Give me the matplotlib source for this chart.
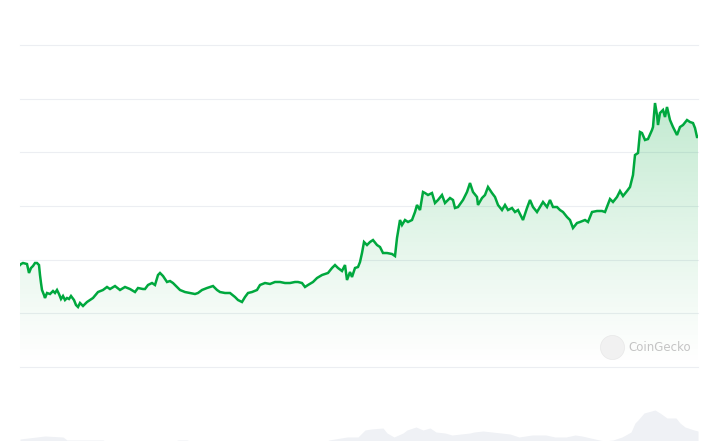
import numpy as np
import matplotlib
matplotlib.use("Agg")
import matplotlib.pyplot as plt

########################## price series (hours since start, price units) ##########################
hours = [0, 1, 3, 7, 9, 11, 13, 15, 17, 19, 20, 21, 22, 24, 25, 27, 30, 33, 35, 37,
         39, 41, 43, 45, 47, 49, 51, 54, 56, 58, 60, 63, 67, 70, 73, 78, 83, 87, 90, 95,
         100, 105, 110, 115, 118, 123, 125, 128, 132, 135, 138, 140, 143, 147, 150, 153, 157, 160, 165, 170,
         175, 178, 182, 187, 190, 193, 197, 200, 205, 210, 215, 218, 222, 225, 228, 232, 237, 240, 245, 250,
         255, 260, 265, 270, 275, 278, 282, 285, 288, 293, 297, 302, 305, 308, 312, 315, 318, 322, 325, 327,
         330, 332, 335, 338, 340, 342, 344, 347, 350, 353, 357, 360, 363, 367, 372, 375, 377, 380, 382, 385,
         388, 392, 395, 397, 400, 403, 405, 408, 412, 415, 418, 422, 425, 430, 433, 435, 438, 443, 447, 450,
         453, 457, 458, 462, 465, 468, 472, 475, 478, 482, 485, 488, 492, 495, 498, 503, 507, 510, 513, 517,
         520, 523, 527, 530, 533, 537, 540, 543, 547, 550, 553, 557, 560, 565, 568, 572, 577, 582, 585, 590,
         593, 597, 600, 603, 607, 610, 613, 615, 618, 620, 622, 625, 628, 632, 633, 635, 637, 638, 640, 643,
         645, 647, 650, 653, 657, 660, 663, 667, 670, 673, 675, 677, 678]
price = [19.00, 19.19, 19.38, 19.19, 17.52, 18.45, 18.82, 19.38, 19.38, 19.00, 17.14, 15.65, 14.35, 13.42, 12.86, 13.79, 13.60, 14.16, 13.79, 14.35,
         13.60, 12.67, 13.23, 12.48, 12.86, 12.67, 13.23, 12.48, 11.55, 11.18, 11.93, 11.37, 12.11, 12.48, 12.86, 13.97, 14.35, 14.91, 14.53, 15.09,
         14.35, 14.91, 14.53, 13.97, 14.72, 14.53, 14.53, 15.28, 15.65, 15.28, 17.14, 17.52, 16.96, 15.84, 16.02, 15.65, 14.91, 14.35, 13.97, 13.79,
         13.60, 13.79, 14.35, 14.72, 14.91, 15.09, 14.35, 13.97, 13.79, 13.79, 13.04, 12.48, 12.11, 13.04, 13.79, 13.97, 14.35, 15.28, 15.65, 15.47,
         15.84, 15.84, 15.65, 15.65, 15.84, 15.84, 15.65, 14.91, 15.28, 15.84, 16.58, 17.14, 17.33, 17.52, 18.45, 19.00, 18.45, 17.89, 19.00, 16.21,
         17.70, 16.77, 18.45, 18.63, 19.56, 21.24, 23.29, 22.73, 23.29, 23.66, 22.73, 22.36, 21.24, 21.24, 21.06, 20.68, 24.04, 27.39, 26.46, 27.39,
         27.02, 27.39, 28.88, 30.19, 29.25, 32.61, 32.42, 32.05, 32.42, 30.56, 31.12, 32.05, 30.56, 31.49, 31.12, 29.63, 29.81, 31.12, 32.61, 34.28,
         32.61, 31.68, 30.19, 31.49, 32.05, 33.54, 32.42, 31.68, 30.19, 29.25, 30.19, 29.25, 29.63, 28.88, 29.25, 27.39, 29.63, 31.12, 29.81, 28.88,
         29.81, 30.75, 29.81, 31.12, 29.81, 29.81, 29.25, 28.88, 27.95, 27.39, 25.90, 26.83, 27.02, 27.39, 27.02, 28.88, 29.07, 29.07, 28.88, 31.30,
         30.75, 31.68, 32.79, 31.86, 32.79, 33.54, 35.78, 39.50, 39.87, 43.79, 43.60, 42.30, 42.48, 44.16, 44.72, 49.19, 46.96, 45.09, 47.33, 47.89,
         46.58, 48.45, 46.02, 44.72, 43.23, 44.72, 45.09, 46.02, 45.65, 45.46, 44.53, 42.86, 42.86]

########################## volume series (same hours, arbitrary units) ##########################
vol_hours = [0, 25, 43, 47, 83, 85, 155, 158, 167, 170, 307, 309, 327, 338, 345, 351, 363, 367, 374, 383,
             387, 396, 403, 410, 416, 425, 432, 441, 450, 454, 463, 472, 481, 490, 499, 512, 526, 535, 546, 555,
             562, 575, 584, 593, 602, 611, 615, 618, 624, 635, 640, 647, 656, 660, 665, 674, 678]
volume = [2, 5, 4, 1, 1, 0, 0, 1, 1, 0, 0, 1, 4, 4, 11, 12, 13, 8, 4, 8,
          11, 14, 11, 13, 9, 8, 6, 7, 8, 9, 10, 9, 8, 7, 4, 6, 6, 4, 4, 6,
          5, 2, 0, 1, 4, 9, 18, 21, 28, 31, 28, 23, 23, 18, 14, 11, 10]

t = np.array(hours, dtype=float)
p = np.array(price)
green = '#00a83e'

fig = plt.figure(figsize=(7.01, 4.41), dpi=100)
fig.patch.set_facecolor('white')

##################################### volume strip #############################################
axv = fig.add_axes([20/701, 0, 678/701, 61/441])
axv.fill_between(vol_hours, volume, 0, color='#eff1f5', linewidth=0)
axv.set_xlim(0, 678)
axv.set_ylim(0, 61)
axv.axis('off')

##################################### price chart ##############################################
ax = fig.add_axes([20/701, 74/441, 678/701, 322/441])
ax.set_xlim(0, 678)
ax.set_ylim(0, 60)
for g in range(0, 61, 10):
    ax.axhline(g, color='#eceef2', linewidth=0.8, zorder=0, clip_on=False)

# gradient fill under the line
grad = np.linspace(0, 1, 256).reshape(-1, 1)
rgba = np.ones((256, 1, 4))
rgba[..., 0] = 0/255
rgba[..., 1] = 168/255
rgba[..., 2] = 62/255
rgba[..., 3] = 0.30 * grad[::-1] ** 1.1
im = ax.imshow(rgba, extent=[0, 678, 0, 60], aspect='auto', origin='upper', zorder=1)
poly = ax.fill_between(t, p, 0, facecolor='none', edgecolor='none')
im.set_clip_path(poly.get_paths()[0], transform=ax.transData)

ax.plot(t, p, color=green, linewidth=1.8, solid_joinstyle='miter', zorder=3)

for s in ax.spines.values():
    s.set_visible(False)
ax.set_xticks([])
ax.set_yticks([])

##################################### watermark ################################################
ax.scatter([0.873], [0.062], s=300, color='#f1f1f1', edgecolor='#e8e8e8', linewidth=0.5,
           transform=ax.transAxes, zorder=4, clip_on=False)
ax.text(0.897, 0.062, 'CoinGecko', transform=ax.transAxes, fontsize=8.5, color='#c4c4c4',
        ha='left', va='center', zorder=4)

fig.savefig('out.png', dpi=100, facecolor='white')
